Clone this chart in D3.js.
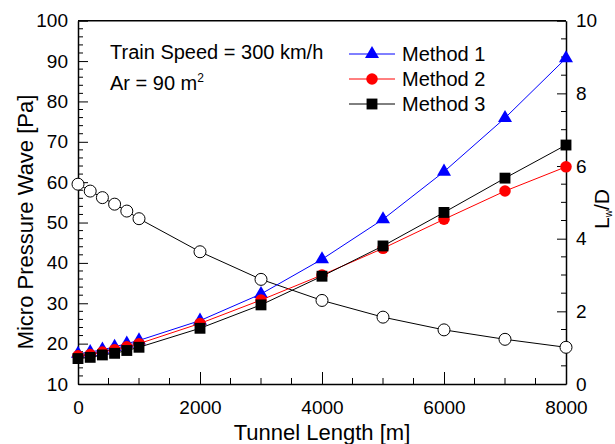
<!DOCTYPE html>
<html>
<head>
<meta charset="utf-8">
<script src="https://cdn.jsdelivr.net/npm/d3@7"></script>
<style>
  body { margin: 0; background: #fff; }
  svg text { font-family: "Liberation Sans", Arial, sans-serif; fill: #000; }
</style>
</head>
<body>
<div id="chart"></div>
<script>
const lengths = [0, 200, 400, 600, 800, 1000, 2000, 3000, 4000, 5000, 6000, 7000, 8000];
const method1 = [17.5, 17.9, 18.5, 19.2, 20.0, 20.8, 25.7, 32.3, 40.9, 50.8, 62.6, 75.9, 90.7];
const method2 = [17.0, 17.3, 17.9, 18.5, 19.2, 20.0, 25.0, 30.8, 37.0, 43.6, 50.8, 57.8, 63.8];
const method3 = [16.3, 16.6, 17.2, 17.6, 18.3, 19.1, 23.8, 29.6, 36.7, 44.2, 52.5, 61.0, 69.2];
const lwd = [5.50, 5.31, 5.13, 4.95, 4.76, 4.55, 3.64, 2.88, 2.30, 1.84, 1.49, 1.23, 1.01];

const xTicks = [0, 2000, 4000, 6000, 8000];
const yTicks = [10, 20, 30, 40, 50, 60, 70, 80, 90, 100];
const y2Ticks = [0, 2, 4, 6, 8, 10];
const legendNames = ['Method 1', 'Method 2', 'Method 3'];

const width = 615;
const height = 444;
const margin = { top: 20.7, right: 49, bottom: 60, left: 78 };
const innerW = width - margin.left - margin.right;
const innerH = height - margin.top - margin.bottom;

const svg = d3.select('#chart')
  .append('svg')
  .attr('width', width)
  .attr('height', height);

const g = svg.append('g')
  .attr('transform', `translate(${margin.left}, ${margin.top})`);

const x = d3.scaleLinear().domain([0, 8000]).range([0, innerW]);
const y = d3.scaleLinear().domain([10, 100]).range([innerH, 0]);
const y2 = d3.scaleLinear().domain([0, 10]).range([innerH, 0]);

// frame top line
g.append('line')
  .attr('x1', 0).attr('x2', innerW)
  .attr('y1', 0).attr('y2', 0)
  .attr('stroke', '#000').attr('stroke-width', 1.5);

// minor ticks (inward)
const xMinor = d3.range(0, 8001, 500).filter(d => d % 2000 !== 0);
g.selectAll('.xminor').data(xMinor).enter().append('line')
  .attr('x1', d => x(d)).attr('x2', d => x(d))
  .attr('y1', innerH).attr('y2', innerH - 6)
  .attr('stroke', '#000').attr('stroke-width', 1);

const yMinor = d3.range(10, 100.1, 2).filter(d => d % 10 !== 0);
g.selectAll('.yminor').data(yMinor).enter().append('line')
  .attr('x1', 0).attr('x2', 5)
  .attr('y1', d => y(d)).attr('y2', d => y(d))
  .attr('stroke', '#000').attr('stroke-width', 1);

const y2Minor = d3.range(0, 10.01, 0.5).filter(d => d % 2 !== 0);
g.selectAll('.y2minor').data(y2Minor).enter().append('line')
  .attr('x1', innerW).attr('x2', innerW - 5)
  .attr('y1', d => y2(d)).attr('y2', d => y2(d))
  .attr('stroke', '#000').attr('stroke-width', 1);

// axes
const xAxis = d3.axisBottom(x).tickValues(xTicks).tickFormat(d3.format('d'))
  .tickSizeInner(-12).tickSizeOuter(0);
const yAxis = d3.axisLeft(y).tickValues(yTicks).tickSizeInner(-10).tickSizeOuter(0);
const y2Axis = d3.axisRight(y2).tickValues(y2Ticks).tickSizeInner(-9).tickSizeOuter(0);

const xg = g.append('g').attr('transform', `translate(0, ${innerH})`).call(xAxis);
const yg = g.append('g').call(yAxis);
const y2g = g.append('g').attr('transform', `translate(${innerW}, 0)`).call(y2Axis);

[xg, yg, y2g].forEach((ax) => {
  ax.select('.domain').attr('stroke', '#000').attr('stroke-width', 1.5);
  ax.selectAll('.tick line').attr('stroke', '#000').attr('stroke-width', 1);
  ax.selectAll('text').style('font-size', '19px').attr('fill', '#000');
});
yg.selectAll('text').attr('x', -10);
y2g.selectAll('text').attr('x', 10);
xg.selectAll('text').attr('y', 17);

// axis titles
svg.append('text')
  .attr('x', margin.left + innerW / 2)
  .attr('y', 440)
  .attr('text-anchor', 'middle')
  .style('font-size', '22px')
  .text('Tunnel Length [m]');

svg.append('text')
  .attr('transform', 'translate(33, 222) rotate(-90)')
  .attr('text-anchor', 'middle')
  .style('font-size', '22px')
  .text('Micro Pressure Wave [Pa]');

const rt = svg.append('text')
  .attr('transform', 'translate(609, 209) rotate(-90)')
  .attr('text-anchor', 'middle')
  .style('font-size', '21px');
rt.append('tspan').text('L');
rt.append('tspan').attr('dy', 3).style('font-size', '10px').text('w');
rt.append('tspan').attr('dy', -3).text('/D');

// series
const series = [
  { values: method1, color: '#0000ff', shape: d3.symbolTriangle, size: 85 },
  { values: method2, color: '#ff0000', shape: d3.symbolCircle, size: 104 },
  { values: method3, color: '#000000', shape: d3.symbolSquare, size: 118 },
];

// L_w/D open circles (right axis)
const lineR = d3.line().x((d, i) => x(lengths[i])).y(d => y2(d));
g.append('path').datum(lwd)
  .attr('fill', 'none').attr('stroke', '#000').attr('stroke-width', 1)
  .attr('d', lineR);
g.selectAll('.oc').data(lwd).enter().append('circle')
  .attr('cx', (d, i) => x(lengths[i]))
  .attr('cy', d => y2(d))
  .attr('r', 6)
  .attr('fill', '#fff').attr('stroke', '#000').attr('stroke-width', 1);

const lineL = d3.line().x((d, i) => x(lengths[i])).y(d => y(d));
series.forEach((s) => {
  g.append('path').datum(s.values)
    .attr('fill', 'none').attr('stroke', s.color).attr('stroke-width', 1)
    .attr('d', lineL);
  g.selectAll(null).data(s.values).enter().append('path')
    .attr('d', d3.symbol().type(s.shape).size(s.size))
    .attr('transform', (d, i) => `translate(${x(lengths[i])}, ${y(d)})`)
    .attr('fill', s.color);
});

// annotation
svg.append('text').attr('x', 110).attr('y', 59).style('font-size', '20px')
  .text('Train Speed = 300 km/h');
const ar = svg.append('text').attr('x', 110).attr('y', 90).style('font-size', '20px');
ar.append('tspan').text('Ar = 90 m');
ar.append('tspan').attr('dy', -8).style('font-size', '12px').text('2');

// legend
const legend = svg.append('g');
legendNames.forEach((name, i) => {
  const s = series[i];
  const ly = 54 + i * 25;
  legend.append('line')
    .attr('x1', 349).attr('x2', 395).attr('y1', ly).attr('y2', ly)
    .attr('stroke', s.color).attr('stroke-width', 1);
  legend.append('path')
    .attr('d', d3.symbol().type(s.shape).size(s.size))
    .attr('transform', `translate(372, ${ly})`)
    .attr('fill', s.color);
  legend.append('text')
    .attr('x', 402).attr('y', ly + 7)
    .style('font-size', '20px')
    .text(name);
});
</script>
</body>
</html>
